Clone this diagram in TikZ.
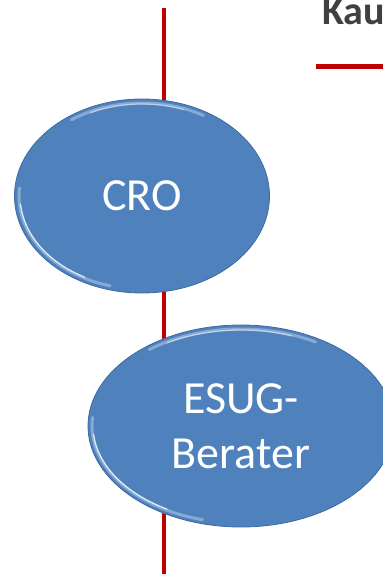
\documentclass[tikz,border=0pt]{standalone}
\usepackage{fontspec}
\setmainfont{Carlito}
\usetikzlibrary{shapes.geometric}
\definecolor{ellblue}{HTML}{4F81BD}
\definecolor{elledge}{HTML}{3E6AA0}
\definecolor{ellhi}{HTML}{C9DCF2}
\definecolor{linered}{HTML}{C00000}
\definecolor{titlegray}{HTML}{404040}
\tikzset{
  redline/.style={draw=linered, line width=4.5pt},
  bubble/.style={ellipse, fill=ellblue, draw=elledge, line width=0.8pt, inner sep=0pt, text=white, align=center,
    font=\fontsize{46}{55}\selectfont},
  rimwide/.style={draw=ellhi, line width=3pt, opacity=0.45, line cap=round},
  rimthin/.style={draw=white, line width=1.3pt, opacity=0.75, line cap=round}
}
\begin{document}
\begin{tikzpicture}[x=1pt,y=-1pt]
\useasboundingbox (0,0) rectangle (383,574);
\clip (0,0) rectangle (383,574);
\coordinate (top) at (164,8);
\coordinate (bot) at (164,574);
\draw[redline] (top) -- (bot);
% CRO
\node[bubble, minimum width=255pt, minimum height=194pt] (cro) at (142,196) {CRO};
\draw[rimwide] ([shift={(cro.center)}]185:123 and 93) arc[start angle=185, end angle=105, x radius=123, y radius=93];
\draw[rimthin] ([shift={(cro.center)}]175:122 and 92) arc[start angle=175, end angle=118, x radius=122, y radius=92];
\draw[rimwide] ([shift={(cro.center)}]235:123 and 93) arc[start angle=235, end angle=300, x radius=123, y radius=93];
\draw[rimthin, opacity=0.45] ([shift={(cro.center)}]245:122 and 92) arc[start angle=245, end angle=290, x radius=122, y radius=92];
% ESUG
\node[bubble, minimum width=306pt, minimum height=202pt] (esug) at (241,426) {ESUG-\\Berater};
\draw[rimwide] ([shift={(esug.center)}]185:149 and 97) arc[start angle=185, end angle=105, x radius=149, y radius=97];
\draw[rimthin] ([shift={(esug.center)}]175:148 and 96) arc[start angle=175, end angle=120, x radius=148, y radius=96];
\draw[rimwide] ([shift={(esug.center)}]232:149 and 97) arc[start angle=232, end angle=300, x radius=149, y radius=97];
\draw[rimthin, opacity=0.5] ([shift={(esug.center)}]240:148 and 96) arc[start angle=240, end angle=290, x radius=148, y radius=96];
% title
\node[anchor=base west, inner sep=0pt, text=titlegray, font=\bfseries\fontsize{40}{48}\selectfont] (title) at (322,24) {Kau};
\coordinate (hl) at (316,66);
\coordinate (hr) at (383,66);
\draw[draw=linered, line width=5pt] (hl) -- (hr);
\end{tikzpicture}
\end{document}
